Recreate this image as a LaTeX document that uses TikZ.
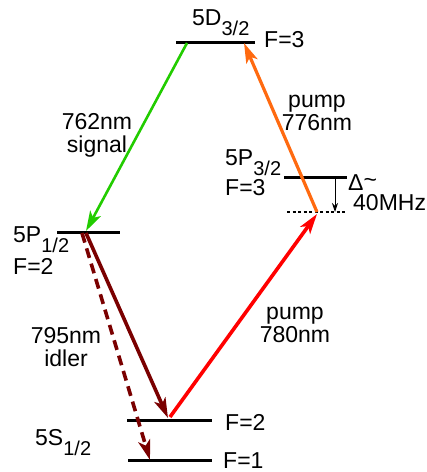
\documentclass[tikz,border=0pt]{standalone}
\usepackage{fontspec}
\setmainfont{Liberation Sans}
\usetikzlibrary{arrows.meta}
\definecolor{sigGreen}{HTML}{22CC00}
\definecolor{pumpOrange}{HTML}{FF6A10}
\definecolor{pumpRed}{HTML}{FF0000}
\definecolor{idlerRed}{HTML}{7A0000}
\newcommand{\lvlsub}[1]{\raisebox{-10pt}{\fontsize{20}{20}\selectfont #1}}

\begin{document}
\begin{tikzpicture}[x=1pt,y=-1pt,
  lvl/.style={line width=3pt},
  lab/.style={font=\fontsize{23}{21}\selectfont,inner sep=0pt,anchor=base west},
  txt/.style={font=\fontsize{23}{23}\selectfont,inner sep=0pt,align=center},
  beam/.style={line width=3.2pt,-{Stealth[length=20pt,width=12pt,inset=5pt]}}
]
\useasboundingbox (0,0) rectangle (427,472);

% levels
\coordinate (dL) at (176,42);   \coordinate (dR) at (255,42);
\coordinate (pthL) at (284,177); \coordinate (pthR) at (347,177);
\coordinate (virL) at (287,212); \coordinate (virR) at (347,212);
\coordinate (phL) at (57,232);  \coordinate (phR) at (120,232);
\coordinate (stL) at (127,420); \coordinate (stR) at (212,420);
\coordinate (soL) at (128,460); \coordinate (soR) at (212,460);

\draw[lvl] (dL) -- (dR);
\draw[lvl] (pthL) -- (pthR);
\draw[line width=2.5pt,dash pattern=on 3pt off 2.5pt] (virL) -- (virR);
\draw[lvl] (phL) -- (phR);
\draw[lvl] (stL) -- (stR);
\draw[lvl] (soL) -- (soR);

% level labels
\node[lab] (dname) at (192,25) {5D\lvlsub{3/2}};
\node[lab] (dF) at (264,47) {F=3};
\node[lab] (ptname) at (225,165) {5P\lvlsub{3/2}};
\node[lab] (ptF) at (225,195) {F=3};
\node[lab] (phname) at (13,242) {5P\lvlsub{1/2}};
\node[lab] (phF) at (13,274) {F=2};
\node[lab] (sname) at (35,445) {5S\lvlsub{1/2}};
\node[lab] (stF) at (225,430) {F=2};
\node[lab] (soF) at (223,468) {F=1};

% detuning
\coordinate (detA) at (335,178);
\coordinate (detB) at (335,212);
\draw[line width=0.9pt,-{Stealth[length=9pt,width=6pt]}] (detA) -- (detB);
\node[lab] (delta) at (348,190) {Δ\raisebox{3pt}{\textasciitilde}};
\node[lab] (detune) at (353,210) {40MHz};

% transitions
\coordinate (gA) at (187,43);   \coordinate (gB) at (86,231);
\coordinate (oA) at (317,212);  \coordinate (oB) at (244,43);
\coordinate (rA) at (170,417);  \coordinate (rB) at (317,214);
\coordinate (iA) at (86,233);   \coordinate (iB) at (168,418);
\coordinate (jA) at (82,233);   \coordinate (jB) at (150,460);

\draw[beam,sigGreen,line width=2.6pt] (gA) -- (gB);
\draw[beam,pumpOrange] (oA) -- (oB);
\draw[beam,pumpRed,line width=3.6pt] (rA) -- (rB);
\draw[beam,idlerRed,line width=3.6pt] (iA) -- (iB);
\draw[beam,idlerRed,line width=3.6pt,dash pattern=on 10pt off 6pt] (jA) -- (jB);

\node[txt] (siglab) at (97,135) {762nm\\signal};
\node[txt] (p776) at (317,113) {pump\\776nm};
\node[txt] (p780) at (295,325) {pump\\780nm};
\node[txt] (idlab) at (66,347) {795nm\\idler};
\end{tikzpicture}
\end{document}
